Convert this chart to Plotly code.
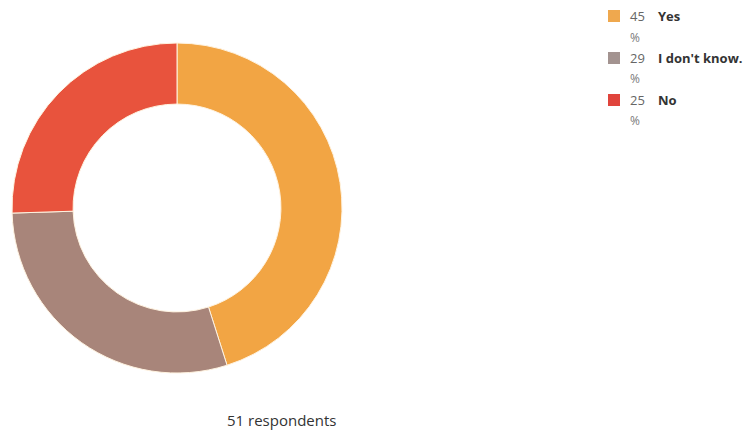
import plotly.graph_objects as go

# Survey answers and respondent counts
labels = ["Yes", "I don't know.", "No"]
counts = [23, 15, 13]
colors = ["#F2A544", "#A8857A", "#E8533D"]
legend_colors = ["#EFA84E", "#A39390", "#E0443C"]

total = sum(counts)
percents = [round(100 * c / total) for c in counts]

W, H = 745, 433

fig = go.Figure()
fig.add_trace(go.Pie(
    labels=labels,
    values=counts,
    hole=0.63,
    sort=False,
    direction="clockwise",
    rotation=0,
    marker=dict(colors=colors, line=dict(color="#FFF3E0", width=1)),
    textinfo="none",
    hoverinfo="label+percent",
    showlegend=False,
    domain=dict(x=[12 / W, 342 / W], y=[60 / H, 390 / H]),
))

# Custom legend: swatch, percent (wrapped) and label
shapes = []
annotations = []
row_y = [16, 58, 100]
num_font = dict(family="Open Sans, sans-serif", size=13, color="#666666")
for i, (lab, pct, col) in enumerate(zip(labels, percents, legend_colors)):
    y = row_y[i]
    shapes.append(dict(
        type="rect", xref="paper", yref="paper",
        x0=608 / W, x1=620 / W, y0=1 - (y - 6) / H, y1=1 - (y + 6) / H,
        fillcolor=col, line=dict(color=col, width=0),
    ))
    annotations.append(dict(
        x=628 / W, y=1 - y / H, xref="paper", yref="paper",
        text=str(pct), showarrow=False, xanchor="left", yanchor="middle",
        font=num_font,
    ))
    annotations.append(dict(
        x=628 / W, y=1 - (y + 21) / H, xref="paper", yref="paper",
        text="%", showarrow=False, xanchor="left", yanchor="middle",
        font=dict(family="Open Sans, sans-serif", size=12, color="#7a7a7a"),
    ))
    annotations.append(dict(
        x=656 / W, y=1 - y / H, xref="paper", yref="paper",
        text="<b>" + lab + "</b>", showarrow=False, xanchor="left", yanchor="middle",
        font=dict(family="Open Sans, sans-serif", size=13, color="#333333"),
    ))

annotations.append(dict(
    x=281 / W, y=1 - 420 / H, xref="paper", yref="paper",
    text=f"{total} respondents", showarrow=False, xanchor="center", yanchor="middle",
    font=dict(family="Open Sans, sans-serif", size=15, color="#333333"),
))

fig.update_layout(
    width=W, height=H,
    margin=dict(l=0, r=0, t=0, b=0),
    paper_bgcolor="white",
    plot_bgcolor="white",
    shapes=shapes,
    annotations=annotations,
)

fig.write_html("out.html")
